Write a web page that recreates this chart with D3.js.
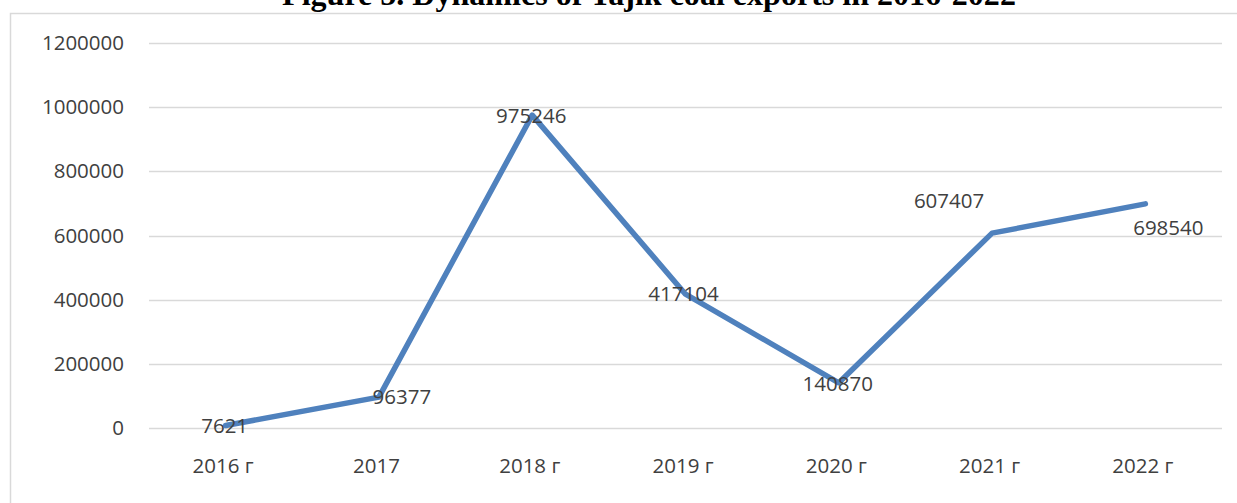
<!DOCTYPE html>
<html>
<head>
<meta charset="utf-8">
<script src="https://cdn.jsdelivr.net/npm/d3@7"></script>
<style>
  body { margin: 0; background: #fff; }
  svg { display: block; }
</style>
</head>
<body>
<div id="wrapper"></div>
<script>
// data
const years = ["2016 г", "2017", "2018 г", "2019 г", "2020 г", "2021 г", "2022 г"]
const exports = [7621, 96377, 975246, 417104, 140870, 607407, 698540]
const yTicks = [0, 200000, 400000, 600000, 800000, 1000000, 1200000]
const titleText = "Figure 5. Dynamics of Tajik coal exports in 2016-2022"

// label nudges (px)
const labelShift = [[-1, 0], [23, 0], [-1, 1], [-2, 0], [-1, 1], [-43, -32], [23, 24]]

const width = 1237
const height = 503
const font = "'Open Sans', 'Liberation Sans', sans-serif"
const textColor = "#404040"

const svg = d3.select("#wrapper")
    .append("svg")
    .attr("width", width)
    .attr("height", height)

// chart frame
svg.append("rect")
    .attr("x", 10.5)
    .attr("y", 13.5)
    .attr("width", 1260)
    .attr("height", 520)
    .attr("fill", "none")
    .attr("stroke", "#d9d9d9")
    .attr("stroke-width", 1.5)

// title (clipped at top of the page, as in the source)
const title = svg.append("text")
    .attr("x", 649)
    .attr("y", 5)
    .attr("text-anchor", "middle")
    .style("font-family", "'Liberation Serif', 'Times New Roman', serif")
    .style("font-weight", "bold")
    .style("font-size", "24px")
    .attr("fill", "#000")
    .text(titleText)
const tw = title.node().getComputedTextLength()
title.style("font-size", (24 * 734 / tw) + "px")

// scales
const xScale = d3.scalePoint()
    .domain(years)
    .range([149, 1222])
    .padding(0.5)

const yScale = d3.scaleLinear()
    .domain([0, 1200000])
    .range([428, 43])

// gridlines
svg.append("g")
    .selectAll("line")
    .data(yTicks)
    .join("line")
    .attr("x1", 149)
    .attr("x2", 1222)
    .attr("y1", d => Math.round(yScale(d)) + 0.5)
    .attr("y2", d => Math.round(yScale(d)) + 0.5)
    .attr("stroke", "#d9d9d9")
    .attr("stroke-width", 1.5)

// y axis labels
const yAxis = svg.append("g")
    .attr("transform", "translate(149,0)")
    .call(d3.axisLeft(yScale).tickValues(yTicks).tickFormat(d3.format("d")).tickSize(0).tickPadding(25))
yAxis.select(".domain").remove()
yAxis.selectAll("text")
    .attr("fill", textColor)
    .style("font-family", font)
    .style("font-size", "20.5px")

// x axis labels
const xAxis = svg.append("g")
    .attr("transform", "translate(0,428)")
    .call(d3.axisBottom(xScale).tickSize(0).tickPadding(30))
xAxis.select(".domain").remove()
xAxis.selectAll("text")
    .attr("fill", textColor)
    .attr("dx", -3)
    .style("font-family", font)
    .style("font-size", "20.5px")

// line
const line = d3.line()
    .x((d, i) => xScale(years[i]))
    .y(d => yScale(d))

svg.append("path")
    .datum(exports)
    .attr("d", line)
    .attr("fill", "none")
    .attr("stroke", "#4f81bd")
    .attr("stroke-width", 5.5)
    .attr("stroke-linejoin", "round")
    .attr("stroke-linecap", "round")

// data labels
svg.append("g")
    .selectAll("text")
    .data(exports)
    .join("text")
    .attr("x", (d, i) => xScale(years[i]) + labelShift[i][0])
    .attr("y", (d, i) => yScale(d) + labelShift[i][1])
    .attr("dy", "0.35em")
    .attr("text-anchor", "middle")
    .attr("fill", textColor)
    .style("font-family", font)
    .style("font-size", "20.5px")
    .text(d => d)
</script>
</body>
</html>
